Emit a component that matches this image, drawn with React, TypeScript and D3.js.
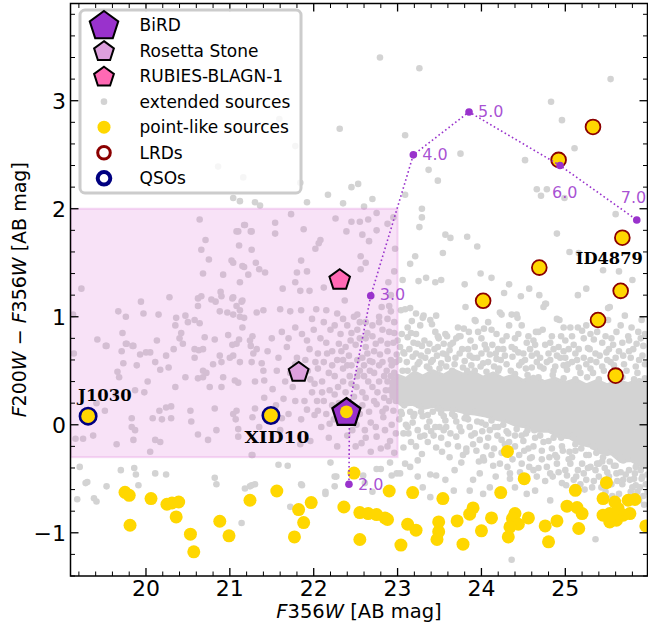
import React from "react";
import * as d3 from "d3";

const W = 648, H = 632;
const M = { left: 70.5, right: 647.5, top: 3.5, bottom: 576 };

const xDomain: [number, number] = [19.1, 25.98];
const yDomain: [number, number] = [-1.4, 3.9];
const xTicks = [20, 21, 22, 23, 24, 25];
const yTicks = [-1, 0, 1, 2, 3];

// selection box (F356W range, colour range)
const boxX = [19.1, 23.0];
const boxY = [-0.3, 2.0];

// extended sources (grey)
const extended: [number, number][] = [
  [22.79,3.40],[23.26,3.30],[23.09,2.68],[23.75,2.51],[23.37,2.36],[23.48,2.26],[23.09,2.13],[24.52,2.45],[24.83,2.99],[24.96,2.82],[25.11,2.56],[25.54,3.20],[24.66,2.18],[24.78,2.18],[24.71,2.12],[24.99,2.10],[22.31,2.74],[22.53,2.23],[22.70,2.09],
  [23.29,2.0],[23.29,1.92],[23.26,1.83],[23.57,1.76],[23.63,1.73],[23.83,1.74],[23.95,1.65],[23.54,1.59],[23.21,1.56],[23.15,1.49],[23.06,1.34],[23.25,1.33],[23.34,1.36],[23.45,1.32],[23.52,1.34],[23.80,1.30],[23.99,1.40],[24.12,1.36],[24.33,1.30],[24.27,1.22],[24.47,1.19],[24.57,1.26],[24.69,1.20],[24.77,1.12],[24.74,1.09],[24.90,1.77],[25.05,1.60],[25.25,1.26],[25.15,1.20],[25.16,1.59],[25.45,1.43],[25.64,1.42],[25.60,1.95],[25.80,1.34],[25.51,1.08],[25.51,0.97],[25.91,0.97],[24.93,0.97],[25.25,0.92],[25.15,0.90],[23.92,0.97],[23.81,1.09],[24.03,0.89],[24.24,1.02],[24.36,1.02],[24.43,0.99],[24.48,0.92],[24.65,0.86],[23.59,0.82],[23.73,0.82],[23.49,0.80],[23.22,1.03],[23.30,0.99],[23.39,0.97],[23.15,1.08],[23.04,1.06],[23.12,0.90],[23.24,0.75],[23.38,0.75],[23.48,0.72],[23.12,0.81],
  [23.09,1.07],[23.31,1.01],[23.46,1.01],[23.17,0.96],[23.27,0.92],[23.41,0.93],[23.57,0.84],[23.75,0.82],[23.79,0.89],[23.93,0.96],[24.08,0.95],[24.22,1.04],[24.30,0.82],[24.42,1.02],[24.68,0.86],[24.76,1.12],[24.90,0.98],[24.98,0.90],[25.08,0.82],[25.20,0.87],[25.34,0.79],[25.53,1.09],[25.61,0.86],[25.71,1.01],[25.79,0.90],[25.87,0.86],[25.85,0.75],[25.49,0.67],[25.37,0.58],[25.12,0.66],[24.98,0.55],[24.82,0.60],[24.70,0.62],[24.54,0.76],[24.44,0.67],[24.18,0.61],[24.06,0.70],[23.86,0.64],[23.62,0.69],[23.55,0.75],[23.29,0.73],[23.19,0.76],[23.07,0.67],[23.05,0.84],
  [23.02,0.60],[23.11,0.58],[23.18,0.63],[23.24,0.56],[23.33,0.62],[23.40,0.58],[23.47,0.64],[23.52,0.57],[23.60,0.61],[23.68,0.56],[23.74,0.66],[23.80,0.59],[23.88,0.55],[23.95,0.62],[24.02,0.57],[24.10,0.65],[24.15,0.54],[24.23,0.60],[24.30,0.56],[24.37,0.63],[24.45,0.55],[24.52,0.60],[24.60,0.53],[24.66,0.58],[24.74,0.52],[24.80,0.66],[24.88,0.54],[24.94,0.62],[25.02,0.51],[25.08,0.58],[25.16,0.53],[25.22,0.62],[25.30,0.52],[25.36,0.66],[25.44,0.54],[25.50,0.60],[25.58,0.55],[25.64,0.68],[25.70,0.56],[25.78,0.62],[25.84,0.54],[25.92,0.64],
  [23.14,0.70],[23.36,0.68],[23.66,0.76],[23.92,0.72],[24.13,0.74],[24.26,0.70],[24.58,0.70],[24.76,0.74],[24.92,0.72],[25.04,0.70],[25.27,0.71],[25.44,0.76],[25.68,0.76],[25.93,0.73],
  [23.06,0.50],[23.20,0.52],[23.35,0.54],[23.50,0.52],[23.65,0.50],[23.78,0.53],[23.92,0.50],[24.06,0.49],[24.20,0.50],[24.40,0.47],[24.55,0.46],[24.68,0.44],[24.85,0.46],[24.98,0.43],[25.12,0.42],[25.26,0.44],[25.40,0.42],[25.55,0.43],[25.68,0.44],[25.82,0.42],[25.95,0.43],
  [23.00,0.78],[23.22,0.84],[23.45,0.86],[23.70,0.80],[23.85,0.86],[24.00,0.80],[24.18,0.84],[24.40,0.80],[24.62,0.78],[24.84,0.82],[25.00,0.78],[25.30,0.84],[25.55,0.80],[25.75,0.82],[25.95,0.84],
  [23.08,0.66],[23.28,0.64],[23.44,0.70],[23.58,0.65],[23.84,0.70],[24.00,0.66],[24.20,0.70],[24.36,0.72],[24.50,0.66],[24.66,0.66],[24.86,0.70],[25.00,0.62],[25.16,0.70],[25.30,0.60],[25.52,0.70],[25.60,0.62],[25.76,0.68],[25.88,0.60],
  [23.03,0.72],[23.12,0.50],[23.16,0.85],[23.22,0.66],[23.26,0.58],[23.32,0.78],[23.38,0.52],[23.42,0.60],[23.48,0.82],[23.54,0.66],[23.58,0.54],[23.63,0.74],[23.69,0.62],[23.72,0.90],[23.77,0.70],[23.83,0.50],[23.87,0.78],[23.90,0.62],[23.96,0.86],[23.99,0.54],[24.04,0.74],[24.08,0.58],[24.12,0.88],[24.17,0.66],[24.21,0.52],[24.25,0.78],[24.28,0.64],[24.33,0.92],[24.35,0.50],[24.40,0.70],[24.44,0.84],[24.48,0.58],[24.53,0.52],[24.56,0.82],[24.60,0.64],[24.64,0.74],[24.70,0.54],[24.73,0.88],[24.78,0.58],[24.82,0.76],[24.86,0.50],[24.90,0.64],[24.95,0.82],[24.98,0.68],[25.03,0.56],[25.06,0.90],[25.10,0.74],[25.14,0.60],[25.18,0.48],[25.22,0.80],[25.25,0.56],[25.29,0.70],[25.33,0.48],[25.38,0.86],[25.41,0.64],[25.46,0.50],[25.48,0.82],[25.54,0.58],[25.57,0.74],[25.62,0.50],[25.66,0.92],[25.69,0.64],[25.73,0.50],[25.76,0.78],[25.81,0.70],[25.86,0.48],[25.90,0.80],[25.95,0.56],
  [23.04,0.12],[23.20,0.10],[23.36,0.09],[23.52,0.11],[23.68,0.08],[23.84,0.05],[24.00,0.02],[24.16,-0.02],[24.32,-0.08],[24.48,-0.10],[24.64,-0.12],[24.80,-0.15],[24.96,-0.20],[25.12,-0.24],[25.28,-0.28],[25.44,-0.34],[25.60,-0.38],[25.76,-0.42],[25.92,-0.48],
  [23.10,0.00],[23.24,-0.05],[23.40,-0.06],[23.58,-0.02],[23.76,-0.06],[23.92,-0.08],[24.08,-0.12],[24.24,-0.14],[24.40,-0.20],[24.56,-0.22],[24.72,-0.24],[24.88,-0.28],[25.04,-0.32],[25.20,-0.36],[25.36,-0.42],[25.52,-0.48],[25.68,-0.55],[25.84,-0.56],[25.98,-0.62],
  [23.16,-0.16],[23.36,-0.16],[23.52,-0.12],[23.72,-0.20],[23.94,-0.24],[24.12,-0.28],[24.28,-0.26],[24.48,-0.36],[24.62,-0.42],[24.85,-0.48],[25.00,-0.42],[25.18,-0.55],[25.32,-0.58],[25.48,-0.62],[25.64,-0.64],[25.80,-0.66],
  [23.02,0.05],[23.08,0.18],[23.13,-0.08],[23.19,0.08],[23.22,-0.20],[23.28,0.12],[23.32,-0.10],[23.38,0.03],[23.45,-0.02],[23.48,0.15],[23.53,-0.25],[23.57,0.04],[23.63,-0.08],[23.66,0.14],[23.74,-0.02],[23.78,-0.28],[23.82,0.08],[23.88,-0.10],[23.93,0.12],[23.97,-0.34],[24.01,-0.06],[24.06,-0.20],[24.12,0.04],[24.14,-0.38],[24.19,-0.10],[24.24,-0.26],[24.26,0.00],[24.33,-0.16],[24.37,-0.32],[24.42,-0.04],[24.46,-0.44],[24.51,-0.24],[24.53,-0.08],[24.60,-0.30],[24.63,-0.05],[24.68,-0.40],[24.74,-0.16],[24.76,-0.52],[24.81,-0.30],[24.86,-0.12],[24.92,-0.44],[24.97,-0.24],[25.01,-0.56],[25.08,-0.30],[25.10,-0.10],[25.13,-0.48],[25.19,-0.22],[25.23,-0.60],[25.27,-0.40],[25.34,-0.52],[25.37,-0.26],[25.43,-0.58],[25.47,-0.40],[25.53,-0.34],[25.56,-0.66],[25.62,-0.52],[25.66,-0.30],[25.72,-0.46],[25.75,-0.70],[25.80,-0.58],[25.86,-0.62],[25.91,-0.50],[25.94,-0.74],[25.98,-0.46],
  [23.07,-0.08],[23.27,-0.11],[23.43,-0.10],[23.55,-0.05],[23.70,-0.11],[23.86,-0.02],[23.98,-0.14],[24.10,-0.05],[23.07,-0.21],[23.29,-0.27],[23.46,-0.21],[23.62,-0.30],[23.82,-0.22],[24.02,-0.30],[24.22,-0.36],[23.98,-0.45],[24.34,-0.45],[24.58,-0.31],[24.78,-0.39],[24.90,-0.30],[25.06,-0.36],[25.30,-0.39],[25.45,-0.30],[25.69,-0.33],[25.84,-0.39],[25.69,-0.51],[25.25,-0.51],[23.15,-0.39],[22.99,-0.45],[23.46,-0.47],[23.90,-0.51],
  [22.25,-0.48],[22.25,-0.57],[22.59,-0.47],[22.80,-0.41],[22.93,-0.47],[23.03,-0.45],[23.09,-0.36],[23.24,-0.33],[23.24,-0.48],[23.39,-0.46],[23.57,-0.51],[23.68,-0.42],[23.76,-0.35],[23.82,-0.25],[24.03,-0.33],[23.86,-0.61],[24.02,-0.64],[24.17,-0.48],[24.31,-0.39],[24.34,-0.50],[24.40,-0.58],[24.57,-0.39],[24.66,-0.48],[24.64,-0.61],[24.82,-0.45],[24.90,-0.36],[24.96,-0.54],[24.82,-0.70],[25.10,-0.51],[25.22,-0.45],[25.38,-0.36],[25.36,-1.06],[24.36,-1.25],[25.61,-0.45],[25.77,-0.51],[25.89,-0.58],[25.83,-0.45],[25.93,-0.66],
  [24.50,-0.15],[24.62,-0.20],[24.70,-0.10],[24.84,-0.22],[24.95,-0.12],[25.05,-0.25],[25.12,-0.18],[25.25,-0.28],[25.33,-0.20],[25.40,-0.36],[25.50,-0.26],[25.58,-0.38],[25.66,-0.44],[25.74,-0.30],[25.82,-0.50],[25.90,-0.42],[25.96,-0.55],[25.55,-0.55],[25.40,-0.48],[24.40,-0.10],[24.28,-0.18],[24.15,-0.22],[23.90,-0.18],[23.60,-0.18],[23.35,-0.02],[23.18,0.02],[23.70,0.03],[24.20,-0.02],[24.55,-0.05],
  [24.72,-0.32],[24.45,-0.28],[25.15,-0.42],[25.50,-0.44],[25.02,-0.47],[25.88,-0.70],[25.78,-0.62],[24.10,-0.58],
  [23.05,0.10],[23.15,0.12],[23.30,0.08],[23.42,0.12],[23.55,0.08],[23.65,0.10],[23.80,0.06],[23.95,0.03],[24.05,0.00],[24.30,-0.06],[23.12,-0.02],[23.50,-0.02],[23.25,0.18],
  [23.39,-0.67],[23.67,-0.61],[24.54,-0.64],[23.30,-0.58],[22.70,-0.62],
  [22.24,0.05],[22.29,0.35],[22.33,0.68],[22.38,0.18],[22.44,0.78],[22.47,0.12],[22.52,0.88],[22.58,0.18],[22.60,0.55],[22.64,0.66],[22.67,0.50],[22.72,0.22],[22.74,0.75],[22.78,0.55],[22.82,0.12],[22.84,0.45],[22.88,0.75],[22.90,0.22],[22.93,0.55],[22.96,0.85],[22.99,0.40],[22.78,0.95],[22.88,0.98],[22.62,0.80],[22.52,0.45],[22.40,0.55],[22.16,0.66],[22.10,0.30],[22.02,0.58],[21.96,0.42],[22.74,-0.02],[22.88,-0.20],[22.62,-0.12],[22.46,-0.05],
  [22.40,0.05],[22.55,0.10],[22.66,0.12],[22.86,0.15],[22.97,0.35],[22.92,0.45],[22.82,0.58],[22.72,0.68],[22.62,0.72],[22.52,0.60],[22.43,0.45],[22.55,0.50],[22.65,0.40],[22.78,0.40],[22.76,0.30],[22.86,0.32],[22.96,0.48],[22.99,0.65],[22.90,0.86],[22.96,0.95],[22.70,0.92],[22.55,0.95],[22.35,0.98],[22.25,0.92],[22.12,0.95],[21.98,0.98],[22.45,0.85],[22.30,0.75],[22.64,0.85],[22.80,0.78],[22.92,0.60],[22.70,0.58],[22.45,0.38],[22.58,0.30],[22.32,0.12],[22.22,0.18],[22.04,0.22],[22.68,0.02],[22.85,-0.05],[22.98,-0.08],[22.50,-0.20],[22.35,0.60],[22.22,0.55],
  [21.08,0.75],[21.24,0.78],[21.32,0.70],[21.12,0.58],[21.38,0.57],[21.06,0.41],[21.41,0.41],[21.51,0.33],[21.41,0.25],[21.64,0.24],[21.56,0.50],[21.93,0.50],[21.89,0.22],[22.01,0.38],[22.05,0.13],[22.19,0.32],[22.25,0.45],[22.35,0.40],[22.51,0.35],[22.60,0.45],[22.67,0.59],[22.79,0.65],[22.87,0.50],[22.91,0.32],[22.75,0.19],[22.83,0.07],[22.95,0.13],[22.61,-0.05],[22.75,-0.11],[22.91,-0.15],[22.57,-0.17],[22.51,0.0],[22.01,0.09],[22.09,-0.02],[22.19,0.01],[21.96,-0.15],[21.84,-0.18],[21.26,-0.28],[21.10,-0.11],[21.04,0.10],
  [21.68,0.72],[21.80,0.62],[21.92,0.78],[22.05,0.66],[22.15,0.76],[22.28,0.60],[22.38,0.72],[22.45,0.55],[22.55,0.80],[22.70,0.82],[22.82,0.88],[22.95,0.76],[22.98,0.58],[22.88,0.40],[22.70,0.35],[22.62,0.25],[22.98,0.22],[22.93,0.00],[22.80,-0.22],[22.68,-0.25],[22.96,-0.26],[22.40,-0.10],[22.28,-0.20],[22.18,-0.12],[22.30,0.20],[22.12,0.22],[21.75,0.35],[21.70,0.10],[21.60,-0.05],[21.48,0.10],[21.35,-0.02],[21.30,0.15],[21.58,0.62],[21.72,0.48],[21.85,0.05],[22.48,0.26],[22.72,0.48],[22.84,0.25],[22.58,0.62],[22.88,0.68],[22.20,0.88],[22.40,0.92],[22.62,0.95],[22.78,1.00],[22.90,1.10],[22.48,1.00],[22.00,0.88],[21.78,0.90],
  [21.62,0.86],[21.70,0.80],[21.86,0.84],[21.95,0.70],[22.08,0.80],[22.12,0.58],[22.22,0.68],[22.32,0.84],[22.42,0.64],[22.50,0.74],[22.35,0.52],[22.18,0.48],[22.05,0.52],[21.90,0.60],[21.78,0.56],[21.66,0.40],[21.82,0.44],[21.98,0.30],[22.10,0.40],[22.25,0.28],[22.38,0.30],[22.15,0.10],[21.92,0.14],[21.78,0.22],[21.55,0.18],[21.62,0.06],[21.40,0.50],[21.45,0.68],[21.50,0.80],[21.30,0.40],
  [21.04,1.18],[21.14,1.14],[21.40,1.06],[21.60,1.07],[21.72,1.05],[21.85,1.06],[22.03,1.07],[22.15,1.06],[22.28,1.03],[22.52,1.02],[22.81,1.09],[22.92,1.05],[22.37,1.15],[22.12,1.27],[21.95,1.24],[21.84,1.24],[21.63,1.26],[21.78,1.32],[21.92,1.42],[21.80,1.41],[21.85,1.52],[22.56,1.44],[22.62,1.50],[22.56,1.56],[22.89,1.32],[22.96,1.42],[22.97,1.63],[22.92,1.20],
  [21.73,1.95],[22.26,1.91],[22.45,1.88],[22.55,1.88],[22.65,1.90],[21.54,1.87],[21.54,1.77],[21.18,1.85],[21.08,1.79],[21.26,1.79],[21.88,1.81],[22.39,1.79],[22.58,1.76],[22.66,1.70],[22.75,1.96],[22.08,1.71],[22.06,1.68],[22.02,1.63],[21.31,1.50],[21.35,1.44],[21.42,1.41],[21.17,1.46],[21.04,1.50],[22.75,1.80],[22.88,1.86],[22.95,1.92],
  [21.04,2.10],[21.12,2.07],[21.30,2.06],[21.36,2.03],[21.92,2.06],[22.17,2.13],[20.86,2.39],[21.16,2.29],[21.59,2.83],[21.78,2.58],[21.84,2.24],[22.35,2.05],[22.45,2.20],[22.60,2.02],
  [20.64,1.90],[20.71,1.71],[20.66,1.62],[20.75,1.53],[20.68,1.40],[21.10,1.79],[21.17,1.85],[21.25,1.79],[21.11,1.66],[21.26,1.62],[21.02,1.52],[21.15,1.47],[21.22,1.39],[21.12,1.32],[20.92,1.39],[19.23,1.26],[19.94,1.14],[20.28,1.18],[20.62,1.17],[20.66,1.19],[20.78,1.16],[20.83,1.14],[20.89,1.23],[20.90,1.19],[21.03,1.17],[21.15,1.15],[20.62,1.10],[21.08,1.10],[21.12,1.06],[20.97,1.04],[20.88,1.05],[21.04,1.02],[21.32,1.04],[21.12,1.00],[21.17,0.99],[19.67,1.05],[19.76,1.00],[19.97,1.03],[20.15,1.02],[20.36,0.99],[20.47,1.01],[20.50,0.95],[20.58,0.97],[20.64,0.94],[20.35,0.92],[19.13,1.02],[19.42,0.79],[19.52,0.73],[19.72,0.85],[19.76,0.75],[19.85,0.73],[20.13,0.78],[20.40,0.80],[20.42,0.85],[20.44,0.75],[20.70,0.81],[20.82,0.79],[20.98,0.83],[21.03,0.74],[21.11,0.79],[21.15,0.90],[21.27,0.82],[21.25,0.73],
  [19.14,0.66],[19.53,0.73],[19.71,0.68],[19.77,0.75],[19.84,0.73],[19.93,0.65],[20.00,0.67],[20.05,0.67],[19.73,0.57],[19.89,0.55],[19.66,0.49],[19.68,0.44],[20.11,0.58],[20.17,0.51],[20.27,0.53],[20.24,0.64],[20.33,0.70],[20.58,0.70],[20.63,0.69],[20.68,0.70],[20.58,0.62],[20.68,0.50],[20.72,0.48],[20.80,0.56],[20.88,0.64],[20.90,0.58],[21.00,0.62],[21.04,0.64],[20.92,0.44],[20.68,0.44],[20.62,0.43],[20.76,0.35],[20.90,0.35],[21.10,0.39],[21.26,0.58],[21.28,0.66],[20.02,0.40],[19.87,0.32],[20.35,0.35],[20.47,0.44],[19.64,0.28],[19.98,0.30],[19.51,0.13],[19.41,0.20],[19.83,0.06],[19.87,-0.05],[19.37,-0.10],[19.25,-0.13],[19.16,-0.13],[20.08,0.06],[20.16,0.13],[20.24,0.16],[20.30,0.17],[20.19,0.05],[20.30,0.06],[20.53,0.13],[20.82,0.15],[20.54,0.03],[20.84,-0.05],[20.62,-0.09],[20.74,-0.14],[20.11,-0.14],[20.17,-0.16],[20.05,-0.25],[19.85,-0.14],[19.83,-0.02],[19.65,-0.18],[21.08,0.13],[21.07,0.05],[21.10,-0.04],[21.27,0.07],[21.27,-0.28],
  [19.21,-0.39],[19.86,-0.40],[19.88,-0.46],[19.91,-0.56],[19.70,-0.42],[19.28,-0.54],[19.53,-0.57],[19.38,-0.68],[20.11,-0.45],[20.24,-0.46],[20.82,-0.49],[20.84,-0.55],[21.24,-0.57],[21.30,-0.55],[19.30,-0.53],[19.18,-0.69],[19.41,-0.71],[21.14,-0.91],[21.18,-0.59],[21.58,-0.37],[21.69,-0.38],[21.86,-0.56],[22.14,-0.64],[21.72,-0.76],[22.20,-0.35],[22.27,-0.48],[22.14,-0.62],[21.85,-0.55],[22.61,-0.54],[22.75,-0.41],[22.91,-0.35],[21.26,-0.56],
];

// saturated core of the extended-source cloud (outline)
const denseCloud: [number, number][] = [
  [22.92,0.40],[23.00,0.46],[23.10,0.43],[23.20,0.49],[23.30,0.45],[23.42,0.50],[23.55,0.46],[23.66,0.51],[23.78,0.47],[23.90,0.49],[24.02,0.44],[24.14,0.48],[24.26,0.43],[24.38,0.46],[24.50,0.41],[24.62,0.45],[24.75,0.40],[24.88,0.43],[25.00,0.39],[25.12,0.42],[25.25,0.37],[25.38,0.41],[25.50,0.37],[25.62,0.41],[25.75,0.38],[25.88,0.42],[26.05,0.38],
  [26.05,-0.40],[25.90,-0.38],[25.78,-0.33],[25.66,-0.34],[25.55,-0.27],[25.42,-0.26],[25.30,-0.20],[25.18,-0.18],[25.05,-0.12],[24.92,-0.11],[24.80,-0.06],[24.68,-0.06],[24.55,-0.02],[24.42,-0.01],[24.30,0.03],[24.18,0.05],[24.05,0.08],[23.92,0.10],[23.80,0.11],[23.66,0.14],[23.55,0.14],[23.42,0.17],[23.30,0.15],[23.18,0.19],[23.05,0.18],[22.92,0.26],
];

// point-like sources (gold)
const pointLike: [number, number][] = [
  [19.75,-0.625],[19.80,-0.653],[19.81,-0.93],[20.06,-0.683],[20.25,-0.736],[20.31,-0.724],[20.39,-0.715],[20.36,-0.853],[20.53,-1.013],[20.57,-1.176],[20.88,-0.893],[20.99,-1.028],[21.24,-0.699],[21.56,-0.613],[21.82,-0.785],[21.88,-0.905],[21.77,-1.038],[21.97,-0.72],
  [22.48,-0.447],[22.90,-0.613],[23.18,-0.628],[23.54,-0.683],[22.36,-0.761],[22.55,-0.813],[22.65,-0.822],[22.75,-0.831],[22.85,-0.862],[22.88,-0.877],[23.12,-0.921],[23.22,-0.976],[22.55,-1.062],[23.04,-1.114],[23.49,-0.899],[23.49,-0.99],[23.47,-1.062],[23.71,-0.89],[23.78,-1.105],[23.86,-0.828],[23.90,-0.77],[24.00,-0.982],[24.12,-0.862],[24.31,-0.247],[24.23,-0.628],[24.51,-0.499],[24.40,-0.822],[24.37,-0.868],[24.44,-0.921],[24.34,-0.946],[24.32,-1.038],[24.56,-0.862],[24.76,-0.936],[24.90,-0.89],[24.80,-1.084],[25.12,-0.607],[25.02,-0.754],[25.14,-0.766],[25.20,-0.822],[25.16,-0.96],[25.49,-0.536],[25.45,-0.683],[25.59,-0.715],[25.53,-0.822],[25.45,-0.837],[25.63,-0.776],[25.69,-0.837],[25.61,-0.884],[25.53,-0.899],[25.75,-0.699],[25.83,-0.692],[25.77,-0.822],[25.96,-0.936],
];

// little red dots
const lrds: [number, number][] = [
  [24.02,1.148],[24.69,1.455],[24.92,2.452],[25.33,2.757],[25.68,1.732],[25.66,1.24],[25.39,0.97],[25.60,0.455],
];

// quasars
const qsoNames = ["J1030", "XID10"];
const qsoX = [19.31, 21.49];
const qsoY = [0.08, 0.086];

// special objects
const bird: [number, number] = [22.39, 0.12];
const rosetta: [number, number] = [21.82, 0.486];
const rubies: [number, number] = [22.31, 1.34];

// BiRD-like template redshift track
const trackZ = [2.0, 2.5, 3.0, 4.0, 5.0, 6.0, 7.0];
const trackX = [22.42, 22.427, 22.68, 23.188, 23.852, 24.937, 25.852];
const trackY = [-0.551, 0.187, 1.194, 2.499, 2.896, 2.40, 1.896];
const labeledZ = [2.0, 3.0, 4.0, 5.0, 6.0, 7.0];

// styling (not data)
const trackLabelOffset: Record<string, [number, number]> = {
  "2": [9, 5.5], "3": [9, 4.5], "4": [9, 5], "5": [9, 5.5], "6": [-8, 32.5], "7": [-16, -16.5],
};
const GREY = "#d3d3d3";
const GOLD = "#ffd700";
const ORCHID = "#9932cc";

const pentagon = (cx: number, cy: number, R: number) =>
  d3.range(5)
    .map((i) => {
      const a = -Math.PI / 2 + (i * 2 * Math.PI) / 5;
      return `${cx + R * Math.cos(a)},${cy + R * Math.sin(a)}`;
    })
    .join(" ");

export default function App() {
  const x = d3.scaleLinear().domain(xDomain).range([M.left, M.right]);
  const y = d3.scaleLinear().domain(yDomain).range([M.bottom, M.top]);

  const minorX = d3.range(19.2, 25.99, 0.2).filter((v) => Math.abs(v - Math.round(v)) > 0.05);
  const minorY = d3.range(-1.4, 3.91, 0.2).filter((v) => Math.abs(v - Math.round(v)) > 0.05);

  const cloudPath = d3.line<[number, number]>().x((d) => x(d[0])).y((d) => y(d[1])).curve(d3.curveLinearClosed)(denseCloud) || "";
  const trackPts: [number, number][] = trackZ.map((_, i) => [trackX[i], trackY[i]]);
  const trackPath = d3.line<[number, number]>().x((d) => x(d[0])).y((d) => y(d[1]))(trackPts) || "";

  const font = "DejaVu Sans, sans-serif";
  const serif = "DejaVu Serif, serif";
  const majorLen = 8, minorLen = 4.5;

  const legendRows = [
    { label: "BiRD", kind: "bird" },
    { label: "Rosetta Stone", kind: "rosetta" },
    { label: "RUBIES-BLAGN-1", kind: "rubies" },
    { label: "extended sources", kind: "ext" },
    { label: "point-like sources", kind: "pl" },
    { label: "LRDs", kind: "lrd" },
    { label: "QSOs", kind: "qso" },
  ];

  const legendMarker = (kind: string, cx: number, cy: number) => {
    switch (kind) {
      case "bird":
        return <polygon points={pentagon(cx, cy + 1, 15)} fill={ORCHID} stroke="#000" strokeWidth={2} />;
      case "rosetta":
        return <polygon points={pentagon(cx, cy + 1, 10.4)} fill="#dda0dd" stroke="#000" strokeWidth={2} />;
      case "rubies":
        return <polygon points={pentagon(cx, cy + 1, 10.4)} fill="#ff69b4" stroke="#000" strokeWidth={2} />;
      case "ext":
        return <circle cx={cx} cy={cy} r={3.3} fill={GREY} />;
      case "pl":
        return <circle cx={cx} cy={cy} r={6.5} fill={GOLD} />;
      case "lrd":
        return <circle cx={cx} cy={cy} r={6.3} fill="#fff" stroke="#8b0000" strokeWidth={3} />;
      default:
        return <circle cx={cx} cy={cy} r={6.3} fill="#fff" stroke="#000080" strokeWidth={4} />;
    }
  };

  const labelStyle = { fontFamily: serif, fontWeight: "bold" as const, fontSize: 17 };

  return (
    <svg width={W} height={H} style={{ position: "absolute", left: 0, top: 0, background: "#fff" }} fontFamily={font}>
      <defs>
        <clipPath id="plotclip">
          <rect x={M.left} y={M.top} width={M.right - M.left} height={M.bottom - M.top} />
        </clipPath>
      </defs>
      <rect x={0} y={0} width={W} height={H} fill="#fff" />

      <g clipPath="url(#plotclip)">
        {/* extended sources */}
        <path d={cloudPath} fill={GREY} stroke={GREY} strokeWidth={3} strokeLinejoin="round" />
        {extended.map((d, i) => (
          <circle key={`e${i}`} cx={x(d[0])} cy={y(d[1])} r={3.3} fill={GREY} />
        ))}

        {/* selection box */}
        <rect
          x={x(boxX[0])}
          y={y(boxY[1])}
          width={x(boxX[1]) - x(boxX[0])}
          height={y(boxY[0]) - y(boxY[1])}
          fill="#da70d6"
          fillOpacity={0.2}
          stroke="#da70d6"
          strokeOpacity={0.25}
          strokeWidth={2}
        />

        {/* point-like */}
        {pointLike.map((d, i) => (
          <circle key={`p${i}`} cx={x(d[0])} cy={y(d[1])} r={6.5} fill={GOLD} />
        ))}

        {/* LRDs */}
        {lrds.map((d, i) => (
          <circle key={`l${i}`} cx={x(d[0])} cy={y(d[1])} r={7.4} fill={GOLD} stroke="#8b0000" strokeWidth={1.8} />
        ))}

        {/* QSOs */}
        {qsoX.map((v, i) => (
          <circle key={`q${i}`} cx={x(v)} cy={y(qsoY[i])} r={8.2} fill={GOLD} stroke="#000080" strokeWidth={2.6} />
        ))}

        {/* redshift track */}
        <path d={trackPath} fill="none" stroke={ORCHID} strokeWidth={1.6} strokeDasharray="1.6,2.6" />
        {trackZ.map((z, i) =>
          labeledZ.includes(z) ? (
            <circle key={`z${i}`} cx={x(trackX[i])} cy={y(trackY[i])} r={3.8} fill={ORCHID} />
          ) : null
        )}
        {trackZ.map((z, i) => {
          if (!labeledZ.includes(z)) return null;
          const off = trackLabelOffset[String(Math.round(z))];
          return (
            <text key={`zt${i}`} x={x(trackX[i]) + off[0]} y={y(trackY[i]) + off[1]} fontSize={16} fill={ORCHID} fillOpacity={0.85}>
              {z.toFixed(1)}
            </text>
          );
        })}

        {/* special objects */}
        <polygon points={pentagon(x(rubies[0]), y(rubies[1]), 10.8)} fill="#ff69b4" stroke="#000" strokeWidth={2} />
        <polygon points={pentagon(x(rosetta[0]), y(rosetta[1]), 10.4)} fill="#dda0dd" stroke="#000" strokeWidth={2} />
        <polygon points={pentagon(x(bird[0]), y(bird[1]) + 1, 14.8)} fill={ORCHID} stroke="#000" strokeWidth={2.2} />
        <circle cx={x(bird[0])} cy={y(bird[1])} r={6.4} fill={GOLD} />
      </g>

      {/* object labels */}
      <text x={x(qsoX[0]) - 10} y={y(qsoY[0]) - 15.5} {...labelStyle} textLength={53.5} lengthAdjust="spacingAndGlyphs">{qsoNames[0]}</text>
      <text x={x(qsoX[1]) - 26.5} y={y(qsoY[1]) + 28} {...labelStyle} textLength={65} lengthAdjust="spacingAndGlyphs">{qsoNames[1]}</text>
      <text x={x(lrds[4][0]) - 46.5} y={y(lrds[4][1]) + 26} {...labelStyle} textLength={67} lengthAdjust="spacingAndGlyphs">ID4879</text>

      {/* axes frame */}
      <rect x={M.left} y={M.top} width={M.right - M.left} height={M.bottom - M.top} fill="none" stroke="#000" strokeWidth={1.5} />

      {/* ticks */}
      <g stroke="#000">
        {xTicks.map((t) => (
          <g key={`xt${t}`} strokeWidth={1.3}>
            <line x1={x(t)} x2={x(t)} y1={M.bottom} y2={M.bottom - majorLen} />
            <line x1={x(t)} x2={x(t)} y1={M.top} y2={M.top + majorLen} />
          </g>
        ))}
        {minorX.map((t, i) => (
          <g key={`xm${i}`} strokeWidth={1}>
            <line x1={x(t)} x2={x(t)} y1={M.bottom} y2={M.bottom - minorLen} />
            <line x1={x(t)} x2={x(t)} y1={M.top} y2={M.top + minorLen} />
          </g>
        ))}
        {yTicks.map((t) => (
          <g key={`yt${t}`} strokeWidth={1.3}>
            <line x1={M.left} x2={M.left + majorLen} y1={y(t)} y2={y(t)} />
            <line x1={M.right} x2={M.right - majorLen} y1={y(t)} y2={y(t)} />
          </g>
        ))}
        {minorY.map((t, i) => (
          <g key={`ym${i}`} strokeWidth={1}>
            <line x1={M.left} x2={M.left + minorLen} y1={y(t)} y2={y(t)} />
            <line x1={M.right} x2={M.right - minorLen} y1={y(t)} y2={y(t)} />
          </g>
        ))}
      </g>

      {/* tick labels */}
      {xTicks.map((t) => (
        <text key={`xl${t}`} x={x(t)} y={596} textAnchor="middle" fontSize={22}>{t}</text>
      ))}
      {yTicks.map((t) => (
        <text key={`yl${t}`} x={66} y={y(t) + 8} textAnchor="end" fontSize={22}>{t < 0 ? `\u2212${Math.abs(t)}` : t}</text>
      ))}

      {/* axis labels */}
      <text x={(M.left + M.right) / 2} y={618} textAnchor="middle" fontSize={19.5}>
        <tspan fontStyle="italic">F</tspan>356<tspan fontStyle="italic">W</tspan> [AB mag]
      </text>
      <text transform={`translate(26,${(M.top + M.bottom) / 2}) rotate(-90)`} textAnchor="middle" fontSize={19}>
        <tspan fontStyle="italic">F</tspan>200<tspan fontStyle="italic">W</tspan> {"\u2212"} <tspan fontStyle="italic">F</tspan>356<tspan fontStyle="italic">W</tspan> [AB mag]
      </text>

      {/* legend */}
      <rect x={80} y={10} width={221} height={183} rx={5} fill="#fff" fillOpacity={0.8} stroke="#cccccc" strokeWidth={3} />
      {legendRows.map((r, i) => {
        const cy = 25 + i * 25.55;
        return (
          <g key={`lg${i}`}>
            {legendMarker(r.kind, 104, cy)}
            <text x={139.5} y={cy + 6} fontSize={17}>{r.label}</text>
          </g>
        );
      })}
    </svg>
  );
}
